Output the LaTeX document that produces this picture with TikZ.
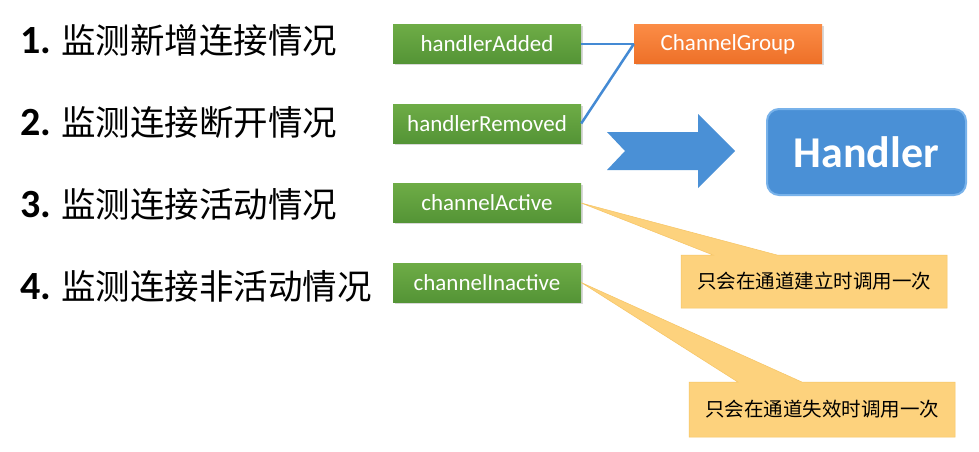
\documentclass[tikz,border=0pt]{standalone}
\usepackage{fontspec}
\setmainfont{Carlito}
\newfontfamily\cjk{Noto Sans CJK SC}
\usetikzlibrary{positioning}
\usetikzlibrary{shadows}
\usetikzlibrary{shapes.callouts}

\begin{document}
\begin{tikzpicture}[x=1pt,y=-1pt,node distance=79.5pt,
	event node/.style={rectangle,top color=greenTop,bottom color=greenBot,text=white,
		minimum width=188pt,minimum height=39pt,inner sep=0pt,font=\fontsize{23}{23}\selectfont,
		drop shadow={opacity=0.3,shadow xshift=1.5pt,shadow yshift=-1.5pt}},
	item node/.style={anchor=west,inner sep=0pt,font=\fontsize{34.5}{40}\selectfont},
	note node/.style={rectangle callout,fill=noteFill,draw=noteEdge,line width=0.5pt,
		callout pointer width=64pt,minimum width=266pt,inner sep=0pt,font=\cjk\fontsize{19.5}{20}\selectfont}]
	
	\definecolor{greenTop}{RGB}{110,172,70}
	\definecolor{greenBot}{RGB}{84,148,54}
	\definecolor{orangeTop}{RGB}{251,140,70}
	\definecolor{orangeBot}{RGB}{238,112,40}
	\definecolor{handlerBlue}{RGB}{74,144,214}
	\definecolor{handlerEdge}{RGB}{120,178,234}
	\definecolor{linkBlue}{RGB}{68,138,212}
	\definecolor{noteFill}{RGB}{253,210,125}
	\definecolor{noteEdge}{RGB}{246,196,100}
	
	\fill[white] (0,0) rectangle (979,451);
	\useasboundingbox (0,0) rectangle (979,451);
	
	\node[item node] (item1) at (20,40) {{\fontsize{40}{40}\bfseries 1.}\hspace{10pt}{\cjk 监测新增连接情况}};
	\node[item node] (item2) at (20,122) {{\fontsize{40}{40}\bfseries 2.}\hspace{10pt}{\cjk 监测连接断开情况}};
	\node[item node] (item3) at (20,204) {{\fontsize{40}{40}\bfseries 3.}\hspace{10pt}{\cjk 监测连接活动情况}};
	\node[item node] (item4) at (20,286) {{\fontsize{40}{40}\bfseries 4.}\hspace{10pt}{\cjk 监测连接非活动情况}};
	
	\node[event node] (added) at (487,44) {handlerAdded};
	\node[event node] (removed) [below of=added] {handlerRemoved};
	\node[event node] (active) [below of=removed] {channelActive};
	\node[event node] (inactive) [below of=active] {channelInactive};
	
	\node[event node,node distance=241pt,top color=orangeTop,bottom color=orangeBot] (group) [right of=added] {ChannelGroup};
	
	\node[rectangle,rounded corners=12pt,fill=handlerBlue,draw=handlerEdge,line width=2pt,text=white,
		minimum width=199pt,minimum height=86pt,font=\bfseries\fontsize{44}{44}\selectfont] (handler) at (866.5,152) {Handler};
	
	\fill[handlerBlue] (607,132) -- (698,132) -- (698,114) -- (735,151) -- (698,188) -- (698,170) -- (607,170) -- (625,151) -- cycle;
	
	\path[draw=linkBlue,line width=2.5pt]
	(added) edge (group)
	(removed.east) edge (group.west);
	
	\node[note node,minimum height=53pt,callout absolute pointer={(active.east)}] (builtnote) at (814,281.5) {只会在通道建立时调用一次};
	\node[note node,minimum height=55pt,callout absolute pointer={(inactive.east)}] (lostnote) at (822,409.5) {只会在通道失效时调用一次};
\end{tikzpicture}
\end{document}
